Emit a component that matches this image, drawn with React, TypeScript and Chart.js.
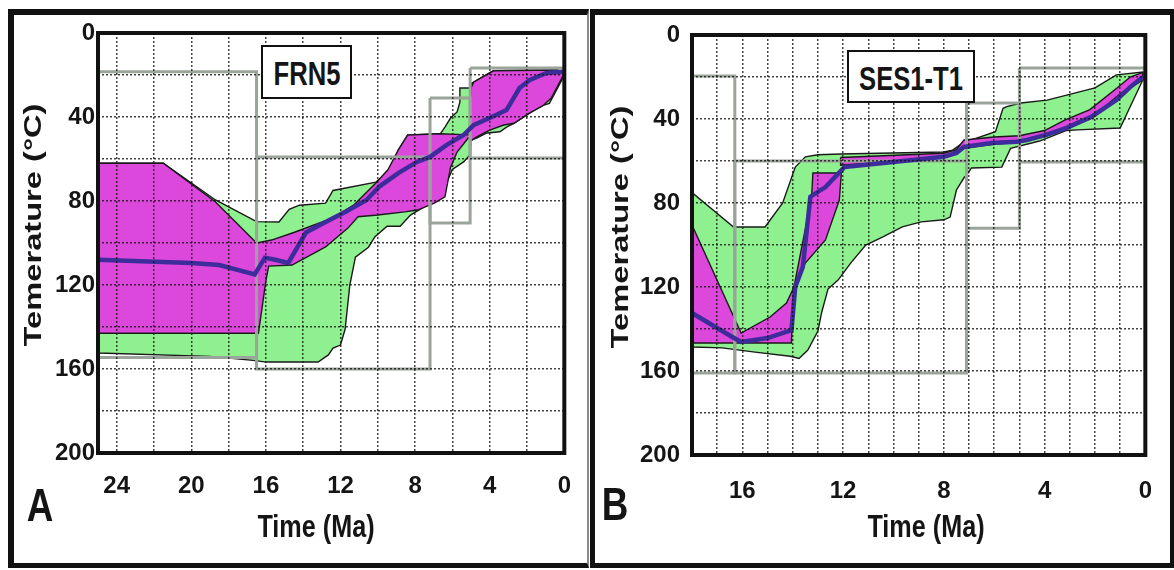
import React, { useEffect, useRef } from "react";
import { Chart, registerables } from "chart.js";

Chart.register(...registerables);

type Pt = [number, number];
type Box = [number, number, number, number]; // time1, time2, tempTop, tempBottom

// ---------------- Panel A : FRN5 ----------------
const aTimeTicks = [24, 22, 20, 18, 16, 14, 12, 10, 8, 6, 4, 2, 0];
const aTempTicks = [0, 20, 40, 60, 80, 100, 120, 140, 160, 180, 200];

const aGreenUpper: Pt[] = [
  [25, 62], [21.5, 62], [18.7, 79.5], [16.5, 89.8], [15.3, 90], [14.75, 84], [14.2, 82],
  [12.8, 81], [12.4, 75], [10.1, 71], [9.3, 65], [8.9, 55.7], [8.4, 48.6], [6.65, 48],
  [6.4, 44.8], [6.1, 40.5], [5.75, 37.6], [5.6, 33], [5.6, 26.2], [5.1, 26.2], [4.95, 23.8],
  [3.8, 18], [0.4, 17.6], [0.05, 18.5],
];
const aGreenLower: Pt[] = [
  [0.05, 21], [0.8, 33.5], [1.1, 34.3], [1.85, 38], [2.7, 43], [3.1, 44.8], [3.45, 47],
  [4.15, 47.6], [4.7, 50], [5.0, 51], [5.05, 58], [5.4, 61.4], [6.0, 65], [6.3, 71],
  [6.4, 77], [6.8, 79], [7.9, 84.8], [8.25, 86.7], [8.8, 92], [9.5, 92], [10.15, 97],
  [10.5, 102], [11.2, 106.7], [11.5, 120], [11.75, 141], [12.0, 148.6], [12.4, 150],
  [12.65, 153.3], [13.2, 156.7], [16.0, 156.7], [16.55, 156], [19, 154], [25, 152.4],
];
const aMagentaUpper: Pt[] = [
  [25, 62], [21.5, 62], [18.7, 80.5], [16.5, 100], [15.7, 98.6], [14.5, 95], [12.4, 88],
  [11.3, 82], [10.1, 71.4], [9.45, 65], [8.9, 55.7], [8.4, 48.6], [6.7, 48], [5.1, 48.5],
  [5.0, 26], [4.85, 23.3], [4.3, 20.5], [3.8, 18], [0.4, 17.6], [0.05, 18.5],
];
const aMagentaLower: Pt[] = [
  [0.05, 20], [0.7, 31], [1.1, 34.3], [1.85, 38], [2.7, 43], [3.25, 43.8], [4.0, 46.2],
  [4.7, 49.5], [4.95, 51], [5.15, 50], [5.75, 56.7], [6.1, 64], [6.4, 78], [6.97, 81],
  [7.87, 84.3], [8.56, 85.2], [10.0, 86.7], [11.06, 87.5], [11.6, 92.9], [12.8, 101.9],
  [14.6, 110.5], [15.85, 111], [16.0, 118], [16.4, 143], [25, 143],
];
const aBestFit: Pt[] = [
  [25, 108], [20, 109.5], [18.5, 110.5], [16.6, 115], [16.05, 107], [15.5, 108], [14.8, 109.5],
  [13.85, 95], [12.9, 90.5], [11.7, 85], [10.6, 79.5], [9.9, 73], [8.9, 66.7], [7.9, 61.4],
  [7.2, 59], [6.3, 53.3], [5.4, 48.6], [4.85, 43.8], [4.0, 40.5], [3.1, 36.7], [2.4, 26.2],
  [1.85, 22.4], [0.95, 19], [0.05, 18.5],
];
const aBoxes: Box[] = [
  [26, 16.5, 18.5, 154.5],
  [16.5, 7.2, 59, 160],
  [7.2, 5.05, 31, 90.5],
  [5.05, -1, 16.7, 59.5],
];

// ---------------- Panel B : SES1-T1 ----------------
const bTimeTicks = [17, 16, 15, 14, 13, 12, 11, 10, 9, 8, 7, 6, 5, 4, 3, 2, 1, 0];
const bTempTicks = [0, 20, 40, 60, 80, 100, 120, 140, 160, 180, 200];

const bGreenUpper: Pt[] = [
  [18, 75], [16.35, 91.4], [15.1, 91.4], [14.4, 80], [13.9, 62.9], [13.5, 58], [13.0, 57],
  [12.1, 56.7], [8.0, 55.7], [7.65, 54.8], [7.25, 51.4], [5.95, 46], [5.65, 34.9],
  [5.5, 34.1], [4.95, 32.4], [3.9, 31], [2.0, 25.2], [1.15, 19], [0.1, 17.6],
];
const bGreenLower: Pt[] = [
  [0.1, 21.4], [1.0, 44.3], [2.7, 45.2], [3.15, 45.5], [3.45, 47], [4.2, 50.5], [5.35, 54],
  [5.7, 62.9], [6.9, 63.3], [7.1, 66.7], [7.2, 68], [7.5, 73.8], [7.75, 86.7], [8.0, 88],
  [8.9, 89], [9.65, 91.4], [10.4, 96], [11.1, 100], [11.7, 108.6], [12.2, 116.7],
  [12.6, 121], [12.85, 132], [13.0, 141], [13.4, 150], [13.75, 154], [14.1, 153],
  [15.5, 151], [16.8, 149], [18, 148.6],
];
const bMagentaLeft: Pt[] = [
  [18, 90.5], [16.05, 141.9], [14.9, 134.3], [14.25, 127.6], [13.95, 120], [13.25, 77],
  [13.2, 65.7], [12.07, 65.7], [12.15, 78.6], [12.7, 97.6], [13.5, 108.6], [13.85, 118],
  [14.0, 125], [14.05, 146.7], [18, 146.7],
];
const bMagentaBandUpper: Pt[] = [
  [12.1, 58.3], [8.0, 56.3], [7.5, 54.6], [7.2, 50], [6.0, 48.6], [5.0, 48], [4.0, 45.5],
  [3.2, 40.5], [2.2, 35.5], [1.1, 25], [0.6, 20], [0.1, 17.8],
];
const bMagentaBandLower: Pt[] = [
  [0.1, 21.5], [1.0, 28], [2.2, 40], [3.2, 45], [4.0, 48.5], [5.0, 51], [6.0, 52],
  [7.3, 54], [8.0, 58.5], [12.1, 62],
];
const bBestFit: Pt[] = [
  [18, 132.4], [16.4, 143.8], [16.05, 146.2], [15.0, 144.3], [14.05, 140.5], [13.9, 120],
  [13.6, 110.5], [13.3, 77], [12.7, 72.4], [11.95, 62.9], [10.4, 61], [8.0, 58], [7.5, 56.2],
  [7.2, 53.3], [6.1, 51.4], [5.1, 50.8], [4.7, 50], [3.95, 47.6], [3.15, 44.3], [2.15, 39],
  [1.15, 31], [0.6, 24.8], [0.1, 20],
];
const bBoxes: Box[] = [
  [19, 16.3, 19.5, 161],
  [16.3, 7.1, 60, 161],
  [7.1, 5.0, 32.4, 92],
  [5.0, -1, 15.7, 60.5],
];

// ---------------- helpers ----------------
const GREEN = "#8ef08e";
const MAGENTA = "#dc48dc";
const BLUE = "#3d2c9c";
const GRAY = "#9aa49a";
const SANS = "'Liberation Sans', Arial, sans-serif";

const toXY = (pts: Pt[]) => pts.map(([x, y]) => ({ x, y }));
const polygon = (upper: Pt[], lower: Pt[]) => toXY([...upper, ...lower, upper[0]]);
const boxPath = ([t1, t2, top, bottom]: Box) =>
  toXY([[t1, top], [t2, top], [t2, bottom], [t1, bottom], [t1, top]]);

const framePlugin = {
  id: "plotFrame",
  afterDraw(chart: any) {
    const { ctx, chartArea: a } = chart;
    ctx.save();
    ctx.strokeStyle = "#111";
    ctx.lineWidth = 4;
    ctx.strokeRect(a.left, a.top, a.right - a.left, a.bottom - a.top);
    ctx.restore();
  },
};

interface PanelCfg {
  timeMax: number;
  timeTicks: number[];
  tempTicks: number[];
  fills: { pts: { x: number; y: number }[]; color: string; order: number }[];
  boxes: Box[];
  best: Pt[];
  yWidth: number;
  xHeight: number;
  padTop: number;
  padRight: number;
  yTickPad: number;
  xTickPad: number;
}

function buildChart(canvas: HTMLCanvasElement, p: PanelCfg) {
  const datasets: any[] = [];
  p.fills.forEach((f) =>
    datasets.push({
      data: f.pts,
      fill: "shape",
      backgroundColor: f.color,
      borderColor: "#1a1a1a",
      borderWidth: 1.4,
      pointRadius: 0,
      tension: 0,
      order: f.order,
    })
  );
  p.boxes.forEach((b) =>
    datasets.push({
      data: boxPath(b),
      fill: false,
      borderColor: GRAY,
      borderWidth: 3,
      pointRadius: 0,
      tension: 0,
      order: 2,
      clip: 0,
    })
  );
  datasets.push({
    data: toXY(p.best),
    fill: false,
    borderColor: BLUE,
    borderWidth: 4.5,
    pointRadius: 0,
    tension: 0,
    order: 1,
  });

  const tickFont = { family: SANS, size: 24, weight: "bold" as const };
  return new Chart(canvas, {
    type: "line",
    data: { datasets },
    plugins: [framePlugin],
    options: {
      responsive: false,
      animation: false,
      devicePixelRatio: 1,
      layout: { padding: { top: p.padTop, right: p.padRight, left: 0, bottom: 0 } },
      plugins: { legend: { display: false }, tooltip: { enabled: false } },
      scales: {
        x: {
          type: "linear",
          min: 0,
          max: p.timeMax,
          reverse: true,
          afterBuildTicks: (s: any) => {
            s.ticks = p.timeTicks.map((v) => ({ value: v }));
          },
          afterFit: (s: any) => {
            s.height = p.xHeight;
          },
          ticks: {
            autoSkip: false,
            maxRotation: 0,
            padding: p.xTickPad,
            color: "#151515",
            font: tickFont,
            callback: (v: any) => (Number(v) % 4 === 0 ? String(v) : ""),
          },
          grid: { color: "rgba(20,20,20,0.8)", lineWidth: 1.5, drawTicks: false, z: 1 },
          border: { display: false, dash: [2, 2] },
        },
        y: {
          type: "linear",
          min: 0,
          max: 200,
          reverse: true,
          afterBuildTicks: (s: any) => {
            s.ticks = p.tempTicks.map((v) => ({ value: v }));
          },
          afterFit: (s: any) => {
            s.width = p.yWidth;
          },
          ticks: {
            autoSkip: false,
            padding: p.yTickPad,
            color: "#151515",
            font: tickFont,
            callback: (v: any) => (Number(v) % 40 === 0 ? String(v) : ""),
          },
          grid: { color: "rgba(20,20,20,0.8)", lineWidth: 1.5, drawTicks: false, z: 1 },
          border: { display: false, dash: [2, 2] },
        },
      },
    } as any,
  });
}

const panelA: PanelCfg = {
  timeMax: 25,
  timeTicks: aTimeTicks,
  tempTicks: aTempTicks,
  fills: [
    { pts: polygon(aGreenUpper, aGreenLower), color: GREEN, order: 4 },
    { pts: polygon(aMagentaUpper, aMagentaLower), color: MAGENTA, order: 3 },
  ],
  boxes: aBoxes,
  best: aBestFit,
  yWidth: 98,
  xHeight: 117,
  padTop: 33,
  padRight: 22,
  yTickPad: 3,
  xTickPad: 19,
};

const panelB: PanelCfg = {
  timeMax: 18,
  timeTicks: bTimeTicks,
  tempTicks: bTempTicks,
  fills: [
    { pts: polygon(bGreenUpper, bGreenLower), color: GREEN, order: 4 },
    { pts: toXY([...bMagentaLeft, bMagentaLeft[0]]), color: MAGENTA, order: 3 },
    { pts: polygon(bMagentaBandUpper, bMagentaBandLower), color: MAGENTA, order: 3 },
  ],
  boxes: bBoxes,
  best: bBestFit,
  yWidth: 102,
  xHeight: 115,
  padTop: 35,
  padRight: 11,
  yTickPad: 12,
  xTickPad: 22,
};

function ChartCanvas({ cfg, left, width }: { cfg: PanelCfg; left: number; width: number }) {
  const ref = useRef<HTMLCanvasElement | null>(null);
  useEffect(() => {
    if (!ref.current) return;
    const chart = buildChart(ref.current, cfg);
    return () => chart.destroy();
  }, [cfg]);
  return (
    <canvas
      ref={ref}
      width={width}
      height={570}
      style={{ position: "absolute", left, top: 0, width, height: 570 }}
    />
  );
}

const abs = (s: React.CSSProperties): React.CSSProperties => ({ position: "absolute", ...s });

function Centered({ x, y, transform, style, children }: any) {
  return (
    <div style={abs({ left: x, top: y, width: 0, height: 0 })}>
      <div
        style={abs({
          left: 0,
          top: 0,
          whiteSpace: "nowrap",
          transform: `translate(-50%, -50%) ${transform || ""}`,
          ...style,
        })}
      >
        {children}
      </div>
    </div>
  );
}

export default function App() {
  const boldText = (size: number): React.CSSProperties => ({
    fontFamily: SANS,
    fontWeight: 700,
    fontSize: size,
    lineHeight: `${size}px`,
    color: "#151515",
  });
  const nameBox = (left: number, top: number, w: number, h: number, text: string) => (
    <div
      style={abs({
        left,
        top,
        width: w,
        height: h,
        boxSizing: "border-box",
        border: "2px solid #111",
        background: "#fff",
      })}
    >
      <Centered x={w / 2 - 2} y={h / 2 - 1} transform="scale(0.8, 1.05)" style={boldText(32)}>
        {text}
      </Centered>
    </div>
  );
  return (
    <div
      style={{
        position: "fixed",
        left: 0,
        top: 0,
        width: 1174,
        height: 570,
        background: "#fff",
        overflow: "hidden",
      }}
    >
      <ChartCanvas cfg={panelA} left={0} width={590} />
      <ChartCanvas cfg={panelB} left={590} width={584} />

      {/* outer frames */}
      <div
        style={abs({
          left: 8,
          top: 9,
          width: 581,
          height: 559,
          boxSizing: "border-box",
          borderLeft: "6px solid #111",
          borderTop: "6px solid #111",
          borderBottom: "5px solid #111",
          borderRight: "2px solid #8a8a8a",
        })}
      />
      <div
        style={abs({
          left: 590,
          top: 9,
          width: 584,
          height: 559,
          boxSizing: "border-box",
          borderLeft: "5px solid #111",
          borderTop: "6px solid #111",
          borderBottom: "5px solid #111",
          borderRight: "4px solid #111",
        })}
      />

      {nameBox(261, 45, 91, 54, "FRN5")}
      {nameBox(847, 50, 128, 53, "SES1-T1")}

      <Centered x={33} y={225} transform="rotate(-90deg) scaleX(1.42)" style={boldText(23)}>
        Temerature (°C)
      </Centered>
      <Centered x={620} y={227} transform="rotate(-90deg) scaleX(1.42)" style={boldText(23)}>
        Temerature (°C)
      </Centered>

      <Centered x={316} y={527} transform="scale(0.84, 1.05)" style={boldText(30)}>
        Time (Ma)
      </Centered>
      <Centered x={926} y={527} transform="scale(0.84, 1.05)" style={boldText(30)}>
        Time (Ma)
      </Centered>

      <Centered x={40} y={505} transform="scale(0.8, 1.02)" style={boldText(46)}>
        A
      </Centered>
      <Centered x={615} y={504} transform="scale(0.8, 1.02)" style={boldText(46)}>
        B
      </Centered>
    </div>
  );
}
